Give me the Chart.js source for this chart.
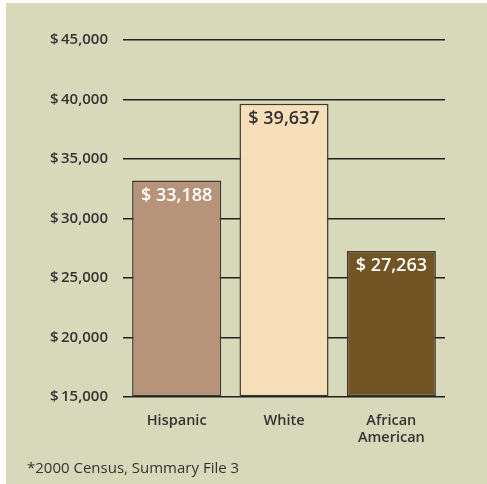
<!DOCTYPE html>
<html>
<head>
<meta charset="utf-8">
<script src="https://cdn.jsdelivr.net/npm/chart.js@4.4.1/dist/chart.umd.min.js"></script>
<style>
  html, body { margin: 0; padding: 0; background: #fff; }
  #panel { position: absolute; left: 6px; top: 3px; width: 481px; height: 481px; background: #d8d9bb; }
  #wrap { position: absolute; left: 0; top: 0; width: 481px; height: 481px; }
  #note { position: absolute; left: 21px; top: 454px; font: 15px "Open Sans", sans-serif; color: #333; }
</style>
</head>
<body>
<div id="panel">
  <div id="wrap"><canvas id="myChart"></canvas></div>
  <div id="note">*2000 Census, Summary File 3</div>
</div>
<script>
const categories = ['Hispanic', 'White', ['African', 'American']];
const incomes = [33188, 39637, 27263];
const barColors = ['#b79379', '#f8dfbb', '#735425'];
const labelColors = ['#ffffff', '#333333', '#ffffff'];
const yTicks = [15000, 20000, 25000, 30000, 35000, 40000, 45000];

const fmt = v => v.toLocaleString('en-US');

// draws "$ 33,188" inside the top of each bar
const valueLabels = {
  id: 'valueLabels',
  afterDatasetsDraw(chart) {
    const c = chart.ctx;
    const meta = chart.getDatasetMeta(0);
    c.save();
    c.font = '600 18px "Open Sans", sans-serif';
    c.textAlign = 'center';
    c.textBaseline = 'middle';
    meta.data.forEach((bar, i) => {
      c.fillStyle = labelColors[i];
      c.fillText('$ ' + fmt(incomes[i]), bar.x, bar.y + 15);
    });
    c.restore();
  }
};

const ctx = document.getElementById('myChart');
new Chart(ctx, {
  type: 'bar',
  data: {
    labels: categories,
    datasets: [{
      data: incomes,
      base: yTicks[0],
      backgroundColor: barColors,
      borderColor: '#3a3a32',
      borderWidth: 1.5,
      borderSkipped: false,
      barPercentage: 0.83,
      categoryPercentage: 1
    }]
  },
  options: {
    responsive: true,
    maintainAspectRatio: false,
    animation: false,
    layout: { padding: { left: 0, right: 42, top: 37, bottom: 0 } },
    plugins: { legend: { display: false }, tooltip: { enabled: false } },
    scales: {
      x: {
        grid: { display: false },
        border: { display: false },
        ticks: {
          color: '#333',
          padding: 7,
          font: { family: '"Open Sans", sans-serif', size: 14.5, weight: '600', lineHeight: 1.2 }
        },
        afterFit(scale) { scale.height = 87; }
      },
      y: {
        min: yTicks[0],
        max: yTicks[yTicks.length - 1],
        afterBuildTicks(scale) { scale.ticks = yTicks.map(v => ({ value: v })); },
        grid: { color: '#222', lineWidth: 1.5, drawTicks: false },
        border: { display: false },
        ticks: {
          color: '#333',
          padding: 15,
          font: { family: '"Open Sans", sans-serif', size: 15, weight: '600' },
          callback: v => '$\u2009' + fmt(v)
        },
        afterFit(scale) { scale.width = 117; }
      }
    }
  },
  plugins: [valueLabels]
});
</script>
</body>
</html>
